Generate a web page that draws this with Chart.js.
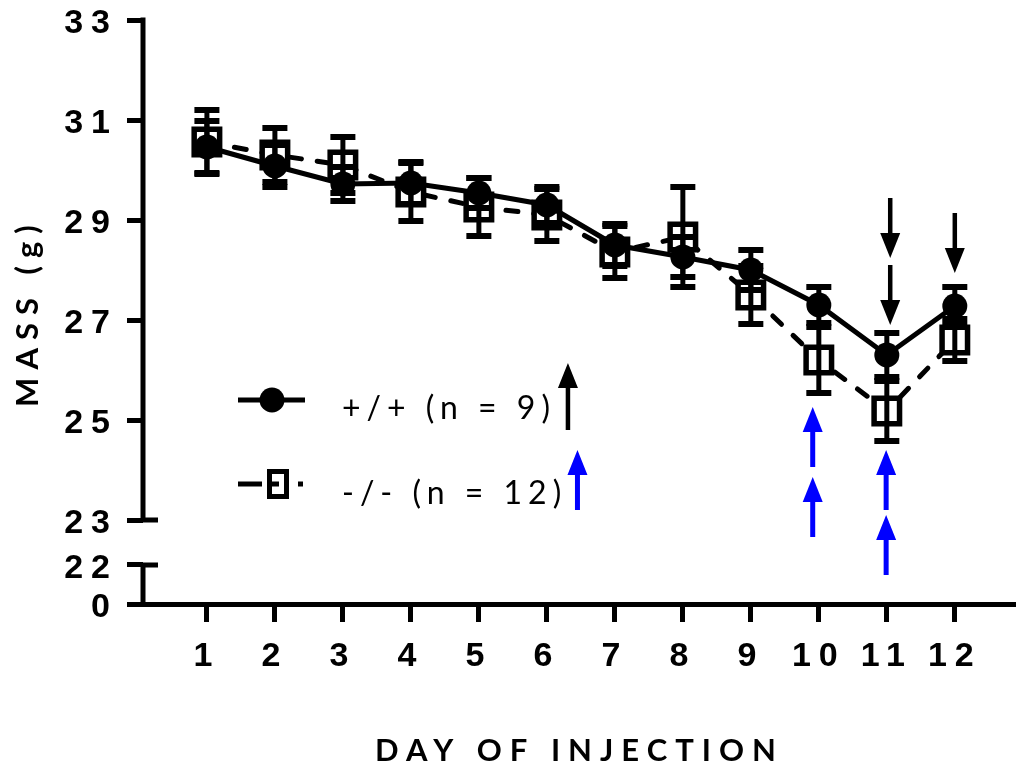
<!DOCTYPE html>
<html>
<head>
<meta charset="utf-8">
<title>Body mass by day of injection</title>
<script src="https://cdn.jsdelivr.net/npm/chart.js@4/dist/chart.umd.min.js"></script>
<style>
  body { margin: 0; background: #fff; }
  canvas { display: block; }
</style>
</head>
<body>
<canvas id="massChart" width="1016" height="766"></canvas>
<script>
"use strict"

// day of injection
let days = [1, 2, 3, 4, 5, 6, 7, 8, 9, 10, 11, 12];

// +/+ mice: mean mass (g) and SEM
let wtMean = [30.46, 30.08, 29.72, 29.74, 29.54, 29.3, 28.5, 28.26, 28.0, 27.3, 26.3, 27.28];
let wtSem = [0.52, 0.42, 0.34, 0.42, 0.3, 0.36, 0.42, 0.4, 0.4, 0.36, 0.44, 0.38];

// -/- mice: mean mass (g) and SEM
let koMean = [30.56, 30.3, 30.1, 29.56, 29.26, 29.1, 28.36, 28.66, 27.5, 26.2, 25.18, 26.6];
let koSem = [0.64, 0.54, 0.56, 0.58, 0.58, 0.52, 0.52, 1.0, 0.58, 0.66, 0.6, 0.42];

let wtLabel = "+/+ (n = 9)";
let koLabel = "-/- (n = 12)";

// y ticks above the axis break
let yTicks = [23, 25, 27, 29, 31, 33];
// the short stub under the break squeezes 22 -> 0 into a small bit of the scale
let yStubTicks = [22.1, 21.32];
let yStubLabels = ["22", "0"];

// arrows: day, start and end mass (g)
let blackArrows = [
    { x: 11.05, from: 29.44, to: 28.24 },
    { x: 11.05, from: 28.1, to: 26.9 },
    { x: 12, from: 29.14, to: 27.94 },
    { x: 6.31, from: 24.8, to: 26.14 }
];
let blueArrows = [
    { x: 9.91, from: 24.06, to: 25.26 },
    { x: 9.91, from: 22.66, to: 23.86 },
    { x: 10.99, from: 23.2, to: 24.4 },
    { x: 10.99, from: 21.9, to: 23.1 },
    { x: 6.45, from: 23.2, to: 24.4 }
];

function points(means) {
    return days.map((d, i) => ({ x: d, y: means[i] }));
}

function drawArrow(ctx, px, y1, y2, color, shaft) {
    let dir = y2 < y1 ? -1 : 1;
    let headLen = 25;
    ctx.strokeStyle = color;
    ctx.fillStyle = color;
    ctx.lineWidth = shaft;
    ctx.lineCap = "butt";
    ctx.beginPath();
    ctx.moveTo(px, y1);
    ctx.lineTo(px, y2 - dir * headLen);
    ctx.stroke();
    ctx.beginPath();
    ctx.moveTo(px, y2);
    ctx.lineTo(px - 10, y2 - dir * headLen);
    ctx.lineTo(px + 10, y2 - dir * headLen);
    ctx.closePath();
    ctx.fill();
}

// keep the scales from reserving extra room for overhanging labels
function noScalePadding(scale) {
    scale.paddingTop = 0;
    scale.paddingBottom = 0;
    scale.paddingLeft = 0;
    scale.paddingRight = 0;
}

let extras = {
    id: "extras",
    beforeDraw(chart) {
        // spaced-out lettering for ticks and axis titles
        chart.ctx.letterSpacing = "8px";
    },
    beforeDatasetsDraw(chart) {
        let ctx = chart.ctx;
        let xs = chart.scales.x;
        let ys = chart.scales.y;
        let left = chart.chartArea.left;
        ctx.save();
        ctx.strokeStyle = "#000";
        ctx.lineWidth = 5;
        ctx.lineCap = "butt";
        // broken y axis: long segment, then the stub down to 0
        ctx.beginPath();
        ctx.moveTo(left, ys.getPixelForValue(33) - 2.5);
        ctx.lineTo(left, ys.getPixelForValue(23));
        ctx.moveTo(left, ys.getPixelForValue(yStubTicks[0]));
        ctx.lineTo(left, xs.top);
        // end ticks on either side of the break poke through the axis
        ctx.moveTo(left, ys.getPixelForValue(23));
        ctx.lineTo(left + 15, ys.getPixelForValue(23));
        ctx.moveTo(left, ys.getPixelForValue(yStubTicks[0]));
        ctx.lineTo(left + 15, ys.getPixelForValue(yStubTicks[0]));
        ctx.stroke();
        ctx.restore();
    },
    afterDatasetsDraw(chart) {
        let ctx = chart.ctx;
        let xs = chart.scales.x;
        let ys = chart.scales.y;
        ctx.save();
        ctx.strokeStyle = "#000";
        ctx.lineCap = "butt";
        // SEM error bars
        [[wtMean, wtSem], [koMean, koSem]].forEach(([mean, sem]) => {
            for (let i = 0; i < days.length; i++) {
                let px = xs.getPixelForValue(days[i]);
                let top = ys.getPixelForValue(mean[i] + sem[i]);
                let bot = ys.getPixelForValue(mean[i] - sem[i]);
                ctx.lineWidth = 5;
                ctx.beginPath();
                ctx.moveTo(px, top);
                ctx.lineTo(px, bot);
                ctx.stroke();
                ctx.lineWidth = 6;
                ctx.beginPath();
                ctx.moveTo(px - 12.5, top);
                ctx.lineTo(px + 12.5, top);
                ctx.moveTo(px - 12.5, bot);
                ctx.lineTo(px + 12.5, bot);
                ctx.stroke();
            }
        });
        // injection arrows
        blackArrows.forEach(a => {
            drawArrow(ctx, xs.getPixelForValue(a.x), ys.getPixelForValue(a.from), ys.getPixelForValue(a.to), "#000", 4.5);
        });
        blueArrows.forEach(a => {
            drawArrow(ctx, xs.getPixelForValue(a.x), ys.getPixelForValue(a.from), ys.getPixelForValue(a.to), "#0000ff", 5);
        });
        ctx.restore();
    },
    afterDraw(chart) {
        // legend
        let ctx = chart.ctx;
        let sets = chart.data.datasets;
        ctx.save();
        ctx.strokeStyle = "#000";
        ctx.fillStyle = "#000";
        ctx.lineWidth = 5;
        ctx.lineCap = "butt";
        ctx.beginPath();
        ctx.moveTo(238, 400);
        ctx.lineTo(305, 400);
        ctx.stroke();
        ctx.beginPath();
        ctx.arc(272, 400, 12.5, 0, Math.PI * 2);
        ctx.fill();

        ctx.beginPath();
        ctx.moveTo(238, 484);
        ctx.lineTo(262, 484);
        ctx.moveTo(298, 484);
        ctx.lineTo(303, 484);
        ctx.stroke();
        ctx.fillStyle = "#fff";
        ctx.fillRect(269.5, 471.5, 17, 25);
        ctx.strokeRect(269.5, 471.5, 17, 25);
        ctx.fillStyle = "#000";
        ctx.fillRect(267, 481.5, 12, 5);

        ctx.letterSpacing = "6px";
        ctx.font = "32px Lato";
        ctx.textBaseline = "middle";
        ctx.textAlign = "left";
        ctx.fillText(sets[0].label, 342, 409);
        ctx.fillText(sets[1].label, 342, 494);
        ctx.restore();
    }
};

let tickFont = { family: "Liberation Sans", size: 34, weight: "bold" };
let titleFont = { family: "Lato", size: 31, weight: "bold", lineHeight: 1 };

let ctx = document.getElementById("massChart").getContext("2d");
let massChart = new Chart(ctx, {
    type: "line",
    data: {
        datasets: [
            {
                label: wtLabel,
                data: points(wtMean),
                borderColor: "#000",
                borderWidth: 5,
                pointStyle: "circle",
                pointRadius: 12.5,
                pointBackgroundColor: "#000",
                pointBorderWidth: 0,
                tension: 0
            },
            {
                label: koLabel,
                data: points(koMean),
                borderColor: "#000",
                borderWidth: 5,
                borderDash: [12, 16],
                borderCapStyle: "round",
                pointStyle: "rect",
                pointRadius: 18,
                pointBackgroundColor: "#fff",
                pointBorderColor: "#000",
                pointBorderWidth: 5.5,
                tension: 0
            }
        ]
    },
    options: {
        responsive: false,
        animation: false,
        events: [],
        layout: { autoPadding: false, padding: { top: 20, left: 0, right: 0, bottom: 0 } },
        plugins: {
            legend: { display: false },
            tooltip: { enabled: false }
        },
        scales: {
            x: {
                type: "linear",
                min: 0.06,
                max: 12.9,
                afterFit(scale) {
                    scale.height = 162;
                    noScalePadding(scale);
                },
                afterBuildTicks(scale) { scale.ticks = days.map(v => ({ value: v })); },
                grid: { drawOnChartArea: false, tickLength: 18, tickWidth: 5, tickColor: "#000", color: "#000" },
                border: { display: true, color: "#000", width: 5 },
                ticks: { autoSkip: false, maxRotation: 0, padding: 14, color: "#000", font: tickFont },
                title: { display: true, text: "DAY OF INJECTION", color: "#000", font: titleFont, padding: { top: 0, bottom: 0 } }
            },
            y: {
                type: "linear",
                min: yStubTicks[1],
                max: 33,
                afterFit(scale) {
                    scale.width = 143;
                    noScalePadding(scale);
                },
                afterBuildTicks(scale) {
                    scale.ticks = yTicks.concat(yStubTicks).map(v => ({ value: v }));
                },
                grid: { drawOnChartArea: false, tickLength: 16, tickWidth: 5, tickColor: "#000", color: "#000" },
                border: { display: false },
                ticks: {
                    autoSkip: false,
                    padding: 9,
                    labelOffset: 4,
                    color: "#000",
                    font: tickFont,
                    callback(value) {
                        let k = yStubTicks.indexOf(value);
                        return k >= 0 ? yStubLabels[k] : String(value);
                    }
                },
                title: { display: true, text: "MASS (g)", color: "#000", font: titleFont, padding: { top: 12.5, bottom: 0 } }
            }
        }
    },
    plugins: [extras]
});
</script>
</body>
</html>
